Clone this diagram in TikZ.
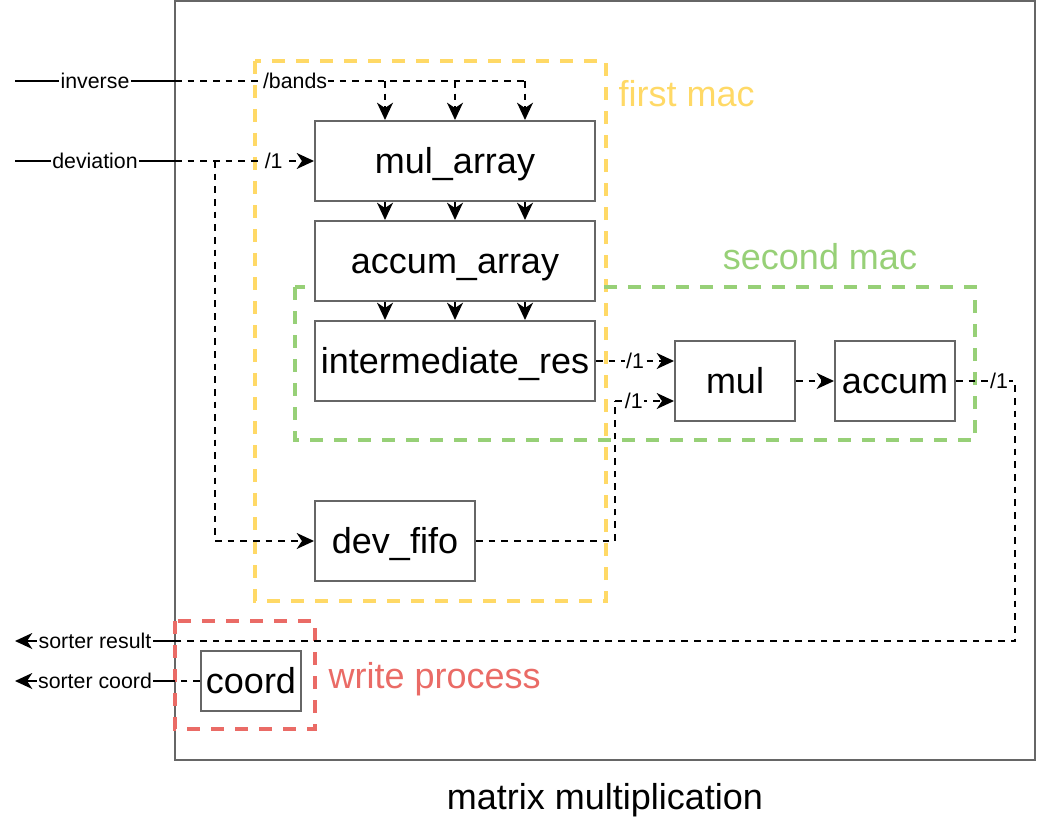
\documentclass[tikz,border=0pt]{standalone}
\usepackage{fontspec}
\setmainfont{Liberation Sans}
\usetikzlibrary{arrows.meta}
\definecolor{boxgray}{HTML}{666666}
\definecolor{macyellow}{HTML}{FFD966}
\definecolor{macgreen}{HTML}{97D077}
\definecolor{macred}{HTML}{EA6B66}
\tikzstyle{block}=[draw=boxgray, line width=1.5pt, fill=white, inner sep=0pt, text height=24.3pt, text depth=5.4pt, font=\fontsize{27}{32}\selectfont]
\tikzstyle{lbl}=[fill=white, inner sep=1pt, text height=14.4pt, text depth=3.2pt, font=\fontsize{16}{19}\selectfont]
\tikzstyle{grp}=[line width=2.5pt, dash pattern=on 9.5pt off 8.5pt]
\tikzstyle{grptext}=[text height=24.3pt, text depth=5.4pt, font=\fontsize{27}{32}\selectfont]
\tikzstyle{dashline}=[line width=1.1pt, dash pattern=on 5pt off 4.5pt]
\tikzstyle{arr}=[-{Stealth[length=13pt, width=12pt, inset=4pt]}]

\begin{document}
\begin{tikzpicture}[x=0.75pt, y=-0.75pt]
    \useasboundingbox (0,0) rectangle (1038,820);
% Outer box
    \node[draw=boxgray, line width=1.5pt, minimum width=645pt, minimum height=569.25pt] (mm) at (605,380.5) {};
    \node[grptext] (mmtitle) at (605,797) {matrix multiplication};
% Groups
    \draw[grp, macyellow] (255,61) rectangle (606,601);
    \draw[grp, macgreen] (295,287) rectangle (975,440);
    \draw[grp, macred] (175,621) rectangle (315,729);
    \node[grptext, macyellow, anchor=west] (firstmac) at (614,94) {first mac};
    \node[grptext, macgreen] (secondmac) at (820,257) {second mac};
    \node[grptext, macred, anchor=west] (writeproc) at (324,676) {write process};
% Blocks
    \node[block, minimum width=210pt, minimum height=60pt] (mularray) at (455,161) {mul\_array};
    \node[block, minimum width=210pt, minimum height=60pt] (accumarray) at (455,261) {accum\_array};
    \node[block, minimum width=210pt, minimum height=60pt] (intres) at (455,361) {intermediate\_res};
    \node[block, minimum width=90pt, minimum height=60pt] (mul) at (735,381) {mul};
    \node[block, minimum width=90pt, minimum height=60pt] (accum) at (895,381) {accum};
    \node[block, minimum width=120pt, minimum height=60pt] (devfifo) at (395,541) {dev\_fifo};
    \node[block, minimum width=75pt, minimum height=45pt] (coord) at (251,681) {coord};
% Ports
    \coordinate (invIn) at (15,81);
    \coordinate (invE) at (175,81);
    \coordinate (devIn) at (15,161);
    \coordinate (devE) at (175,161);
    \coordinate (devBr) at (215,161);
    \coordinate (resOut) at (15,641);
    \coordinate (resE) at (175,641);
    \coordinate (resTurn) at (1015,641);
    \coordinate (crdOut) at (15,681);
    \coordinate (crdE) at (175,681);
    \coordinate (fifoTurn) at (615,401);
% Inputs
    \draw[line width=1.1pt] (invIn) -- node[lbl] {inverse} (invE);
    \draw[dashline] (invE) -- node[lbl, pos=0.343] {/bands} (invE -| 525,0);
    \foreach \dx in {-70,0,70}
        \draw[dashline, arr] ([xshift=\dx*0.75pt]mularray.north |- invE) -- ([xshift=\dx*0.75pt]mularray.north);
    \draw[line width=1.1pt] (devIn) -- node[lbl] {deviation} (devE);
    \draw[dashline, arr] (devE) -- node[lbl, pos=0.71] {/1} (mularray.west);
    \draw[dashline, arr] (devBr) |- (devfifo.west);
% Arrays
    \foreach \dx in {-70,0,70} {
        \draw[line width=1.1pt, arr] ([xshift=\dx*0.75pt]mularray.south) -- ([xshift=\dx*0.75pt]accumarray.north);
        \draw[line width=1.1pt, arr] ([xshift=\dx*0.75pt]accumarray.south) -- ([xshift=\dx*0.75pt]intres.north);
    }
% Second mac
    \draw[dashline, arr] (intres.east) -- node[lbl] {/1} (intres.east -| mul.west);
    \draw[dashline] (devfifo.east) -| (fifoTurn);
    \draw[dashline, arr] (fifoTurn) -- node[lbl, pos=0.32] {/1} (fifoTurn -| mul.west);
    \draw[dashline, arr] (mul.east) -- (accum.west);
% Outputs
    \draw[dashline] (accum.east) -- node[lbl, pos=0.73] {/1} (accum.east -| resTurn) -- (resTurn) -- (resE);
    \draw[line width=1.1pt, arr] (resE) -- node[lbl] {sorter result} (resOut);
    \draw[dashline] (coord.west) -- (crdE);
    \draw[line width=1.1pt, arr] (crdE) -- node[lbl] {sorter coord} (crdOut);
\end{tikzpicture}
\end{document}
